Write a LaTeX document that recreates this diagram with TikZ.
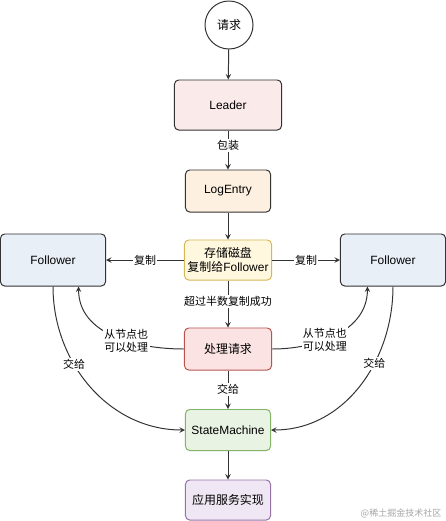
\documentclass[tikz,border=0pt]{standalone}
\usepackage{fontspec}
\setmainfont{Liberation Sans}
\newfontfamily\cjk{Noto Sans CJK SC}
\usetikzlibrary{arrows}

\definecolor{linegray}{HTML}{333333}
\definecolor{leaderfill}{HTML}{FBEAEA}
\definecolor{logfill}{HTML}{FDF0E1}
\definecolor{storefill}{HTML}{FFF7DE}
\definecolor{storeline}{HTML}{D6B656}
\definecolor{followfill}{HTML}{E9EFF7}
\definecolor{procfill}{HTML}{FAE3E2}
\definecolor{procline}{HTML}{B85450}
\definecolor{smfill}{HTML}{E9F3E3}
\definecolor{smline}{HTML}{82B366}
\definecolor{appfill}{HTML}{EFE7F3}
\definecolor{appline}{HTML}{9673A6}

\begin{document}
\begin{tikzpicture}[x=0.025cm, y=0.025cm, >=stealth,
	box/.style={draw=linegray, line width=0.7pt, rounded corners=3pt, inner sep=0pt,
		align=center, font=\fontsize{8.5}{10}\selectfont},
	lab/.style={fill=white, inner sep=1pt, align=center, font=\cjk\fontsize{7.8}{9.5}\selectfont},
	flow/.style={->, draw=linegray, line width=0.7pt}]
	 \useasboundingbox (0,0) rectangle (446,-521);
	 % die Kaestchen in der Mitte:
	 \node[box, circle, fill=white, minimum size=1.2cm] (req) at (229,-25) {\cjk 请求};
	 \node[box, fill=leaderfill, minimum width=2.675cm, minimum height=1.25cm] (leader) at (228,-105) {Leader};
	 \node[box, fill=logfill, minimum width=2.125cm, minimum height=1.05cm] (log) at (228,-191) {LogEntry};
	 \node[box, draw=storeline, fill=storefill, minimum width=2.175cm, minimum height=1cm] (store) at (228,-260) {{\cjk 存储磁盘}\\{\cjk 复制给}Follower};
	 \node[box, draw=procline, fill=procfill, minimum width=2.175cm, minimum height=1.05cm] (proc) at (228,-349) {\cjk 处理请求};
	 \node[box, draw=smline, fill=smfill, minimum width=2.125cm, minimum height=1.025cm] (sm) at (228,-430) {StateMachine};
	 \node[box, draw=appline, fill=appfill, minimum width=2.125cm, minimum height=1cm] (app) at (228,-500) {\cjk 应用服务实现};
	 % links und rechts die Follower:
	 \node[box, fill=followfill, minimum width=2.625cm, minimum height=1.3cm] (fl) at (53,-260) {Follower};
	 \node[box, fill=followfill, minimum width=2.625cm, minimum height=1.3cm] (fr) at (393,-260) {Follower};
	 % senkrechte Pfeile:
	 \draw[flow] (req) -- (leader);
	 \draw[flow] (leader) -- node[lab, pos=0.38] {包装} (log);
	 \draw[flow] (log) -- (store);
	 \draw[flow] (store) -- node[lab, pos=0.45] {超过半数复制成功} (proc);
	 \draw[flow] (proc) -- node[lab] {交给} (sm);
	 \draw[flow] (sm) -- (app);
	 % waagerechte Pfeile zu den Followern:
	 \draw[flow] (store) -- node[lab] {复制} (fl);
	 \draw[flow] (store) -- node[lab] {复制} (fr);
	 % Boegen:
	 \draw[flow] (proc.west) to[out=180, in=-90] node[lab, pos=0.4] {从节点也\\可以处理} (fl.-46);
	 \draw[flow] (proc.east) to[out=0, in=-90] node[lab, pos=0.4] {从节点也\\可以处理} (fr.-134);
	 \draw[flow] (fl.south) to[out=-90, in=180] node[lab, pos=0.37] {交给} (sm.west);
	 \draw[flow] (fr.south) to[out=-90, in=0] node[lab, pos=0.37] {交给} (sm.east);
	 % Wasserzeichen:
	 \node[text=black!35, font=\cjk\fontsize{6.4}{8}\selectfont] (mark) at (401,-513) {@稀土掘金技术社区};
\end{tikzpicture}
\end{document}
